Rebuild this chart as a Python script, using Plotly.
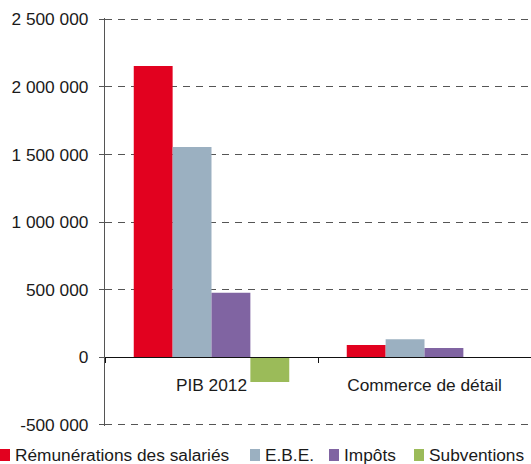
import plotly.graph_objects as go

categories = ["PIB 2012", "Commerce de détail"]
series_names = ["Rémunérations des salariés", "E.B.E.", "Impôts", "Subventions"]
remunerations = [2155000, 89000]
ebe = [1555000, 133000]
impots = [477000, 67000]
subventions = [-185000, -2000]
colors = ["#E2011F", "#9BB0C1", "#8064A2", "#9BBB59"]
ytick_vals = [-500000, 0, 500000, 1000000, 1500000, 2000000, 2500000]
ytick_text = ["-500 000", "0", "500 000", "1 000 000", "1 500 000", "2 000 000", "2 500 000"]

series_values = [remunerations, ebe, impots, subventions]

W, H = 531, 464
L, R, T, B = 105, 0, 18, 38
pw, ph = W - L - R, H - T - B
YMIN, YMAX = -510000, 2510000
FONT = "Liberation Sans, Arial, Helvetica, sans-serif"
FS = 17.3

def px_x(px):
    return (px - L) / pw

def px_y(py):
    return (H - B - py) / ph

fig = go.Figure()
for name, vals, col in zip(series_names, series_values, colors):
    fig.add_trace(go.Bar(x=categories, y=vals, name=name, marker=dict(color=col, line=dict(width=0)),
                         showlegend=False))

# custom legend (squares + labels)
legend_sq_x = [0, 250, 329, 414]
shapes = []
annotations = []
for name, col, sx in zip(series_names, colors, legend_sq_x):
    shapes.append(dict(type="rect", xref="paper", yref="paper",
                       x0=px_x(sx), x1=px_x(sx + 10), y0=px_y(461), y1=px_y(449),
                       fillcolor=col, line=dict(width=0)))
    annotations.append(dict(text=name, xref="paper", yref="paper", x=px_x(sx + 13), y=px_y(455),
                            xanchor="left", yanchor="middle", showarrow=False,
                            font=dict(family=FONT, size=FS, color="#1a1a1a")))

fig.update_layout(
    width=W, height=H,
    margin=dict(l=L, r=R, t=T, b=B, pad=0),
    paper_bgcolor="white", plot_bgcolor="white",
    barmode="group", bargap=0.27, bargroupgap=0,
    font=dict(family=FONT, size=FS, color="#1a1a1a"),
    shapes=shapes, annotations=annotations,
    xaxis=dict(
        anchor="free", position=(0 - YMIN) / (YMAX - YMIN),
        showline=True, linecolor="#111111", linewidth=1.3,
        ticks="outside", tickson="boundaries", ticklen=5, tickcolor="#111111",
        ticklabelstandoff=12,
        showgrid=False, zeroline=False,
        tickfont=dict(family=FONT, size=FS, color="#1a1a1a"),
    ),
    yaxis=dict(
        range=[YMIN, YMAX],
        tickvals=ytick_vals, ticktext=ytick_text,
        showline=True, linecolor="#555555", linewidth=1.3,
        ticks="outside", ticklen=5, tickcolor="#555555",
        ticklabelstandoff=7,
        showgrid=True, gridcolor="#555555", gridwidth=1, griddash="7px,6px",
        zeroline=False,
        tickfont=dict(family=FONT, size=FS, color="#1a1a1a"),
    ),
)

fig.write_html(
    "out.html",
    config={"displayModeBar": False},
    post_script="document.body.style.margin='0';document.body.style.overflow='hidden';",
)
